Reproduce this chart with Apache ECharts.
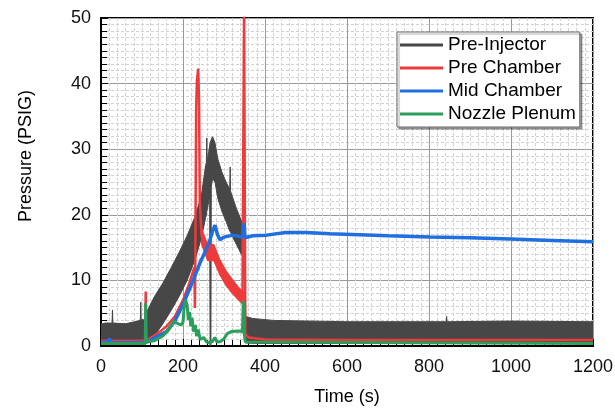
<!DOCTYPE html>
<html>
<head>
<meta charset="utf-8">
<script src="https://cdn.jsdelivr.net/npm/echarts@6.0.0/dist/echarts.min.js"></script>
<style>
  html, body { margin: 0; padding: 0; background: #fff; }
  #chart { width: 615px; height: 408px; }
</style>
</head>
<body>
<div id="chart"></div>
<script>
// Pre-Injector is a noisy band: lower / upper edge
var piTime = [0, 10, 27, 28, 29, 60, 90, 96, 97, 98, 108, 110, 130, 150, 170, 190, 210, 230, 245, 255, 257, 258, 259, 260, 265, 266, 268, 269, 272, 278, 285, 295, 305, 314, 315, 316, 330, 343, 350, 351, 353, 370, 420, 600, 842, 843, 844, 1000, 1200];
var piLow  = [0.3, 0.3, 0.3, 0.3, 0.3, 0.3, 0.3, 0.3, 0.3, 0.3, 0.3, 0.5, 1.5, 3.3, 5.3, 7.5, 10, 13.3, 16.5, 19.5, 20, 20.5, 20.8, 21, 23, 0, 0, 24.2, 25.5, 25, 22.5, 20.5, 19, 17.5, 17.5, 17.3, 15.5, 13.9, 13.5, 2, 0.5, 0.4, 0.4, 0.4, 0.4, 0.4, 0.4, 0.4, 0.4];
var piHigh = [3.3, 3.5, 3.5, 5.5, 3.5, 3.4, 3.8, 4, 6.7, 4, 4, 5, 7.5, 9.5, 11.8, 14.2, 16.8, 19.8, 23, 27.5, 28, 31.7, 28.2, 28.5, 30.5, 31, 31.3, 31.5, 31.9, 31, 28.5, 26.5, 25, 23.9, 27.3, 23.6, 21, 19, 18.5, 15, 4.5, 4.2, 3.9, 3.7, 3.7, 4.5, 3.7, 3.8, 3.7];

// Pre Chamber trace and its noisy falling part
var pcTime = [0, 108, 109, 110, 120, 140, 160, 180, 200, 215, 225, 228, 229, 230, 232, 234, 237, 239, 241, 245, 250, 258, 265, 272, 280, 290, 300, 315, 330, 345, 348, 349, 351, 352, 360, 400, 600, 1200];
var pcValue = [0.8, 0.8, 8.3, 0.9, 1.2, 2, 3, 4.5, 7, 9.5, 11.5, 12, 5.8, 12.5, 36, 40.5, 42.3, 38, 22, 17, 15.5, 14, 14.2, 15, 13.5, 12, 10.7, 9.3, 8.3, 7.3, 7, 52, 52, 1.8, 1.3, 1, 0.9, 0.9];
var pcBandTime = [245, 260, 275, 290, 305, 320, 335, 348];
var pcBandLow  = [15.5, 13, 13, 10.8, 9.2, 8, 7, 6.2];
var pcBandHigh = [18, 15.5, 15.5, 13.2, 11.5, 10.2, 9, 8.2];

// Mid Chamber
var mcTime = [0, 20, 21, 22, 108, 110, 130, 160, 180, 200, 220, 241, 255, 265, 272, 278, 284, 290, 300, 322, 345, 349, 351, 370, 404, 450, 500, 559, 700, 802, 900, 998, 1100, 1200];
var mcValue = [0.5, 0.6, 1.2, 0.5, 0.5, 0.6, 1.2, 2.2, 3.8, 6.3, 9.3, 12.6, 14.5, 16, 17.5, 18.4, 17, 16.2, 16.6, 16.9, 16.6, 18.7, 16.5, 16.8, 16.9, 17.3, 17.3, 17.1, 16.8, 16.6, 16.5, 16.3, 16.1, 15.9];

// Nozzle Plenum
var npTime = [0, 108, 109, 110, 130, 150, 165, 178, 185, 195, 200, 203, 206, 210, 213, 216, 219, 222, 226, 230, 233, 237, 242, 250, 258, 265, 272, 278, 283, 292, 300, 308, 318, 335, 345, 347, 349, 352, 1200];
var npValue = [0.4, 0.4, 6.5, 0.6, 0.8, 1.5, 2.5, 3.8, 3.5, 3.2, 3.6, 6, 7, 6.3, 4, 5.2, 3, 4.3, 2.2, 3.2, 1.5, 2.5, 1, 1.3, 0.6, 0.5, 0.7, 1.3, 0.6, 0.7, 1.1, 1.9, 2.2, 2.3, 2.2, 6.8, 2, 0.6, 0.4];

var legendNames = ['Pre-Injector', 'Pre Chamber', 'Mid Chamber', 'Nozzle Plenum'];

var GRAY = '#474747', RED = '#ee3a3a', BLUE = '#1f6fe0', GREEN = '#2b9e5c';
var FONT = 'Liberation Sans, Arial, sans-serif';

function pairs(xs, ys) {
    return xs.map(function (x, i) { return [x, ys[i]]; });
}
function rows(xs, lo, hi) {
    return xs.map(function (x, i) { return [x, lo[i], hi[i]]; });
}

// one polygon per band: upper edge forward, lower edge back
function bandRenderer(xs, lo, hi, color) {
    return function (params, api) {
        if (params.dataIndex !== 0) return null;
        var pts = [];
        for (var i = 0; i < xs.length; i++) pts.push(api.coord([xs[i], hi[i]]));
        for (var j = xs.length - 1; j >= 0; j--) pts.push(api.coord([xs[j], lo[j]]));
        return {
            type: 'polygon',
            shape: { points: pts },
            style: { fill: color, stroke: color, lineWidth: 1 }
        };
    };
}

var chart = echarts.init(document.getElementById('chart'), null, { renderer: 'canvas' });

var axisFmt = function (v) { return String(v); };

var option = {
    animation: false,
    backgroundColor: '#fff',
    grid: {
        left: 101, right: 22, top: 18, bottom: 62,
        outerBoundsMode: 'none',
        show: true,
        borderColor: '#000',
        borderWidth: 2,
        backgroundColor: 'transparent'
    },
    legend: {
        data: legendNames,
        orient: 'vertical',
        left: 397, top: 32,
        padding: [3, 4, 3, 3],
        itemGap: 3,
        itemWidth: 43,
        itemHeight: 3,
        icon: 'rect',
        backgroundColor: '#fff',
        borderColor: '#6a6a6a',
        borderWidth: 1,
        shadowColor: 'rgba(0,0,0,0.35)',
        shadowOffsetX: 2,
        shadowOffsetY: 2,
        shadowBlur: 1,
        textStyle: { fontSize: 19, color: '#000', fontFamily: FONT, lineHeight: 20 }
    },
    xAxis: {
        type: 'value',
        min: 0, max: 1200, interval: 200,
        name: 'Time (s)',
        nameLocation: 'middle',
        nameGap: 42,
        nameTextStyle: { fontSize: 18, color: '#000', fontFamily: FONT },
        axisLine: { show: true, lineStyle: { color: '#000', width: 2 } },
        axisTick: { show: true, inside: true, length: 7, lineStyle: { color: '#000', width: 1 } },
        minorTick: { show: true, splitNumber: 10, length: 6, lineStyle: { color: '#000', width: 1 } },
        axisLabel: { fontSize: 18, color: '#111', fontFamily: FONT, margin: 12, formatter: axisFmt },
        splitLine: { show: true, lineStyle: { color: '#9a9a9a', width: 1 } },
        minorSplitLine: { show: true, lineStyle: { color: '#d2d2d2', width: 1, type: [3, 2] } }
    },
    yAxis: {
        type: 'value',
        min: 0, max: 50, interval: 10,
        name: 'Pressure (PSIG)',
        nameLocation: 'middle',
        nameRotate: 90,
        nameGap: 66,
        nameTextStyle: { fontSize: 18, color: '#000', fontFamily: FONT, padding: [0, 0, 0, 52] },
        axisLine: { show: true, lineStyle: { color: '#000', width: 2 } },
        axisTick: { show: true, inside: true, length: 7, lineStyle: { color: '#000', width: 1 } },
        minorTick: { show: true, splitNumber: 10, length: 6, lineStyle: { color: '#000', width: 1 } },
        axisLabel: { fontSize: 18, color: '#111', fontFamily: FONT, margin: 10, formatter: axisFmt },
        splitLine: { show: true, lineStyle: { color: '#9a9a9a', width: 1 } },
        minorSplitLine: { show: true, lineStyle: { color: '#d2d2d2', width: 1, type: [3, 2] } }
    },
    series: [
        {
            name: 'Pre-Injector', type: 'custom', clip: true,
            itemStyle: { color: GRAY },
            encode: { x: 0, y: [1, 2] },
            renderItem: bandRenderer(piTime, piLow, piHigh, GRAY),
            data: rows(piTime, piLow, piHigh)
        },
        {
            name: 'pcBand', type: 'custom', clip: true, silent: true,
            itemStyle: { color: RED },
            encode: { x: 0, y: [1, 2] },
            renderItem: bandRenderer(pcBandTime, pcBandLow, pcBandHigh, RED),
            data: rows(pcBandTime, pcBandLow, pcBandHigh)
        },
        {
            name: 'Pre Chamber', type: 'line', symbol: 'none',
            color: RED,
            itemStyle: { color: RED },
            lineStyle: { width: 2.5, color: RED },
            data: pairs(pcTime, pcValue)
        },
        {
            name: 'Mid Chamber', type: 'line', symbol: 'none',
            color: BLUE,
            itemStyle: { color: BLUE },
            lineStyle: { width: 3.5, color: BLUE },
            data: pairs(mcTime, mcValue)
        },
        {
            name: 'Nozzle Plenum', type: 'line', symbol: 'none',
            color: GREEN,
            itemStyle: { color: GREEN },
            lineStyle: { width: 3, color: GREEN },
            data: pairs(npTime, npValue)
        }
    ]
};

chart.setOption(option);
</script>
</body>
</html>
